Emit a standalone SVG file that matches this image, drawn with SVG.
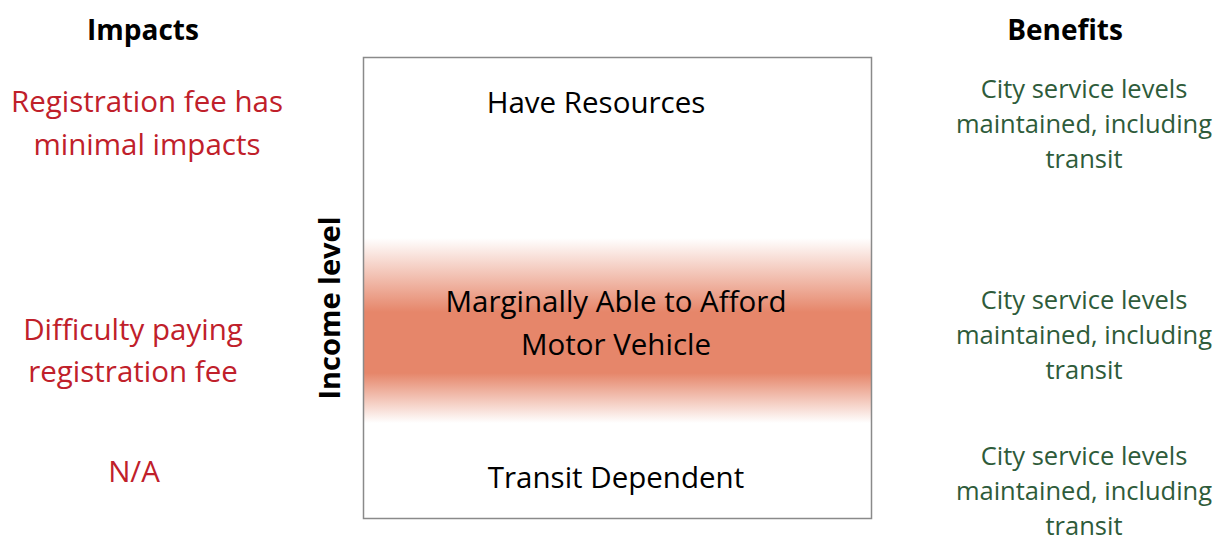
<svg xmlns="http://www.w3.org/2000/svg" width="1225" height="550" viewBox="0 0 1225 550">
<defs>
<linearGradient id="band" x1="0" y1="0" x2="0" y2="1">
<stop offset="0" stop-color="#E6866A" stop-opacity="0"/>
<stop offset="0.4" stop-color="#E6866A" stop-opacity="1"/>
<stop offset="0.73" stop-color="#E6866A" stop-opacity="1"/>
<stop offset="1" stop-color="#E6866A" stop-opacity="0"/>
</linearGradient>
<style>
text{font-family:"Open Sans",Lato,"Liberation Sans",sans-serif;text-anchor:middle}
.hd{font-size:28px;font-weight:bold;fill:#000}
.imp{font-size:29.5px;fill:#C0202A}
.ben{font-size:25.5px;fill:#2E5B3A}
.lvl{font-size:29.5px;fill:#000}
.axis{font-size:29px;font-weight:bold;fill:#000}
</style>
</defs>
<rect width="1225" height="550" fill="#fff"/>
<g id="income-box">
<rect x="364" y="238" width="507" height="185" fill="url(#band)"/>
<rect x="363.5" y="57.5" width="508" height="461" fill="none" stroke="#8a8a8a" stroke-width="1.5"/>
<text class="lvl" x="596" y="113">Have Resources</text>
<text class="lvl" x="616" y="312">Marginally Able to Afford</text>
<text class="lvl" x="616" y="355">Motor Vehicle</text>
<text class="lvl" x="616" y="488">Transit Dependent</text>
</g>
<g id="axis-label">
<text class="axis" transform="translate(340,308) rotate(-90)">Income level</text>
</g>
<g id="impacts">
<text class="hd" x="143" y="40">Impacts</text>
<text class="imp" x="147" y="112">Registration fee has</text>
<text class="imp" x="147" y="155">minimal impacts</text>
<text class="imp" x="133" y="340">Difficulty paying</text>
<text class="imp" x="133" y="382">registration fee</text>
<text class="imp" x="134" y="482">N/A</text>
</g>
<g id="benefits">
<text class="hd" x="1065" y="40">Benefits</text>
<text class="ben" x="1084" y="98">City service levels</text>
<text class="ben" x="1084" y="133">maintained, including</text>
<text class="ben" x="1084" y="168">transit</text>
<text class="ben" x="1084" y="309">City service levels</text>
<text class="ben" x="1084" y="344">maintained, including</text>
<text class="ben" x="1084" y="379">transit</text>
<text class="ben" x="1084" y="465">City service levels</text>
<text class="ben" x="1084" y="500">maintained, including</text>
<text class="ben" x="1084" y="535">transit</text>
</g>
<g id="connectors"/>
</svg>
